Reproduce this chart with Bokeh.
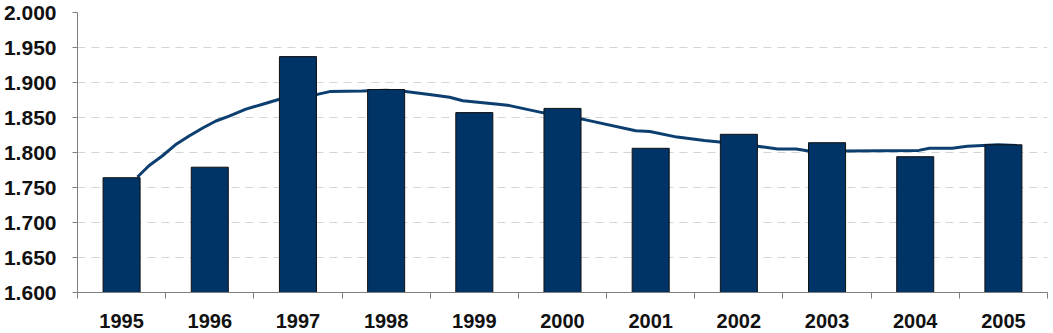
from bokeh.plotting import figure
from bokeh.models import FixedTicker, NumeralTickFormatter, ColumnDataSource
from bokeh.embed import file_html
from bokeh.resources import INLINE

years = ["1995", "1996", "1997", "1998", "1999", "2000", "2001", "2002", "2003", "2004", "2005"]
bar_values = [1.764, 1.779, 1.937, 1.890, 1.857, 1.863, 1.806, 1.826, 1.814, 1.794, 1.811]

# trend line: position in years after 1995 and value
trend_pos = [0.18, 0.31, 0.46, 0.61, 0.77, 0.92, 1.07, 1.22, 1.41, 1.60, 1.79, 2.00, 2.22, 2.36,
             2.73, 3.00, 3.22, 3.49, 3.72, 3.87, 4.27, 4.40, 4.77, 5.25, 5.83, 5.99, 6.30, 6.61,
             6.78, 7.21, 7.44, 7.65, 7.79, 8.21, 9.04, 9.16, 9.42, 9.59, 9.94, 10.15]
trend_val = [1.765, 1.781, 1.795, 1.811, 1.824, 1.835, 1.845, 1.852, 1.862, 1.869, 1.876, 1.880, 1.883, 1.887,
             1.888, 1.889, 1.887, 1.883, 1.879, 1.874, 1.869, 1.867, 1.857, 1.847, 1.831, 1.830, 1.822, 1.817,
             1.815, 1.809, 1.805, 1.805, 1.802, 1.802, 1.803, 1.806, 1.806, 1.809, 1.811, 1.810]

y_ticks = [1.60, 1.65, 1.70, 1.75, 1.80, 1.85, 1.90, 1.95, 2.00]

idx = list(range(len(years)))

p = figure(width=1053, height=333, x_range=(-0.5, len(years) - 0.5), y_range=(1.6, 2.0),
           output_backend="svg", toolbar_location=None,
           min_border_left=77, min_border_right=6, min_border_top=12, min_border_bottom=41)
p.outline_line_color = None
p.background_fill_color = "white"
p.border_fill_color = "white"

# line first so bars cover it
p.line(trend_pos, trend_val, line_color="#0C3F70", line_width=3)

src = ColumnDataSource(dict(x=idx, top=bar_values))
p.vbar(x="x", top="top", bottom=1.6, width=0.42, source=src,
       fill_color="#003366", line_color="#111111", line_width=1)

# x axis
xa = p.xaxis[0]
xa.ticker = FixedTicker(ticks=idx, minor_ticks=[i - 0.5 for i in range(len(years) + 1)])
xa.major_label_overrides = {i: y for i, y in enumerate(years)}
xa.major_tick_line_color = None
xa.minor_tick_out = 6
xa.minor_tick_in = 0
xa.minor_tick_line_color = "#7F7F7F"
xa.axis_line_color = "#7F7F7F"
xa.major_label_standoff = 15
xa.major_label_text_font = "Liberation Sans"
xa.major_label_text_font_style = "bold"
xa.major_label_text_font_size = "20px"
xa.major_label_text_color = "#111111"

# y axis
ya = p.yaxis[0]
ya.ticker = FixedTicker(ticks=y_ticks, minor_ticks=[])
ya.formatter = NumeralTickFormatter(format="0.000")
ya.major_tick_out = 5
ya.major_tick_in = 0
ya.major_tick_line_color = "#7F7F7F"
ya.axis_line_color = "#7F7F7F"
ya.major_label_standoff = 16
ya.major_label_text_font = "Liberation Sans"
ya.major_label_text_font_style = "bold"
ya.major_label_text_font_size = "21px"
ya.major_label_text_color = "#111111"

p.xgrid.grid_line_color = None
p.ygrid.grid_line_color = "#D4D4D4"
p.ygrid.grid_line_dash = "8 6"
p.ygrid.grid_line_width = 1

open("out.html", "w").write(file_html(p, INLINE))
